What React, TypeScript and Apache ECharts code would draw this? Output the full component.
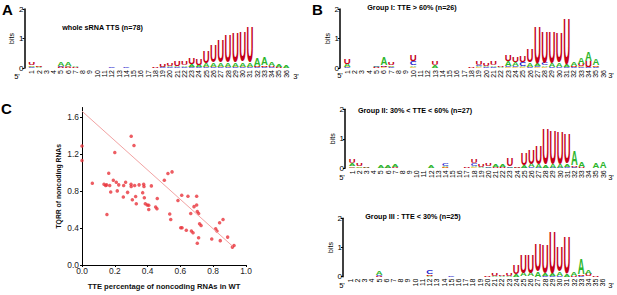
import React, { useEffect, useRef } from "react";
import * as echarts from "echarts";

// ---------- data ----------
const positions = [1,2,3,4,5,6,7,8,9,10,11,12,13,14,15,16,17,18,19,20,21,22,23,24,25,26,27,28,29,30,31,32,33,34,35,36];
const letters = ["U", "A", "C", "G"];
const letterColors = ["#c4001a", "#2cb52c", "#1a1acc", "#f2a900"];
const letterWidths = [0.722, 0.722, 0.722, 0.778];

// whole sRNA TTS (n=78)
const wholeU = [0.07,0.04,0.01,0,0.02,0.02,0.03,0,0,0, 0,0.01,0,0.01,0,0,0.01,0.02,0.07,0.10, 0.17,0.15,0.24,0.20,0.38,0.58,0.76,0.95,1.03,1.05, 1.20,0.03,0.06,0.04,0.02,0.01];
const wholeA = [0.04,0.02,0.01,0.01,0.14,0.12,0.04,0,0,0, 0,0.01,0,0.01,0,0,0.01,0.01,0.03,0.05, 0.06,0.06,0.08,0.07,0.11,0.14,0.15,0.15,0.15,0.15, 0.13,0.26,0.28,0.15,0.09,0.07];
const wholeC = [0.02,0,0,0,0.03,0.02,0.01,0,0,0.01, 0,0.03,0,0.02,0.01,0,0,0,0.02,0.02, 0.02,0.02,0.02,0.02,0.02,0.02,0.02,0.02,0.02,0.02, 0.02,0.02,0.02,0.02,0.01,0.01];
const wholeG = [0.03,0.02,0,0,0.02,0.02,0.01,0,0,0, 0,0,0,0,0,0,0,0,0.01,0.01, 0.01,0.01,0.02,0.01,0.02,0.02,0.02,0.02,0.02,0.02, 0.02,0.02,0.02,0.01,0.01,0.01];

// Group I: TTE > 60% (n=26)
const g1U = [0.17,0,0,0,0.02,0.05,0.09,0,0,0.22, 0,0,0.12,0,0,0,0,0.03,0.12,0.10, 0.13,0.03,0.20,0.18,0.22,0.45,1.24,1.06,1.07,1.05, 1.58,0.03,0.09,0.20,0.03,0.01];
const g1A = [0.11,0,0,0,0.03,0.25,0.05,0,0,0.06, 0,0,0.09,0,0,0,0,0.01,0.04,0.05, 0.06,0.02,0.18,0.14,0.05,0.14,0.10,0.06,0.12,0.14, 0.07,0.12,0.22,0.30,0.22,0.01];
const g1C = [0.02,0,0,0,0.02,0.03,0.02,0,0,0.12, 0,0,0.01,0,0,0,0,0.01,0.05,0.02, 0.02,0.01,0.03,0.03,0.12,0.02,0.03,0.08,0.02,0.02, 0.02,0.02,0.02,0.02,0.02,0.01];
const g1G = [0.02,0,0,0,0.01,0.02,0.02,0,0,0.03, 0,0,0.01,0,0,0,0,0,0.02,0, 0.01,0,0.02,0.02,0.02,0.02,0.02,0.02,0.01,0.01, 0.01,0.02,0.03,0.02,0.03,0.01];

// Group II: 30% < TTE < 60% (n=27)
const g2U = [0.12,0.07,0.02,0.01,0.01,0.02,0.06,0,0,0, 0,0.01,0,0.02,0,0,0.02,0.13,0.09,0.08, 0.04,0.02,0.28,0.03,0.38,0.50,0.64,1.22,1.15,1.10, 1.05,0.06,0.03,0,0.01,0.01];
const g2A = [0.09,0.05,0.02,0,0.09,0.08,0.07,0,0,0, 0,0.08,0,0.03,0,0,0,0.06,0.05,0.05, 0.09,0.09,0.05,0.02,0.07,0.15,0.13,0.10,0.12,0.13, 0.08,0.50,0.17,0,0.18,0.20];
const g2C = [0.02,0.01,0,0,0.01,0.01,0.01,0,0,0, 0,0.01,0,0.09,0,0,0,0.07,0.01,0.02, 0.01,0.01,0.02,0,0.02,0.02,0.02,0.02,0.02,0.02, 0.06,0.03,0.01,0,0.01,0.01];
const g2G = [0.05,0.02,0,0,0,0,0.01,0,0,0, 0,0,0,0.02,0,0,0,0.03,0,0, 0,0,0.01,0,0.01,0.01,0.01,0.01,0.01,0.01, 0.01,0.02,0.01,0,0,0];

// Group III : TTE < 30% (n=25)
const g3U = [0,0,0,0,0.02,0,0,0,0,0, 0,0.03,0.01,0.01,0,0,0,0,0,0.04, 0.09,0.03,0.09,0.30,0.64,0.64,0.94,1.01,1.44,0.88, 1.28,0.03,0.05,0.08,0.02,0];
const g3A = [0,0,0,0,0.13,0,0,0,0,0, 0,0.02,0,0,0,0,0,0,0,0.01, 0.02,0.02,0.03,0.10,0.14,0.14,0.18,0.10,0.08,0.14, 0.10,0.15,0.55,0.12,0,0];
const g3C = [0,0,0,0,0.03,0,0,0,0,0, 0,0.14,0,0,0.02,0,0,0,0,0, 0,0,0,0.01,0.01,0.01,0.01,0.02,0.02,0.02, 0.01,0.01,0.02,0.01,0,0];
const g3G = [0,0,0,0,0,0,0,0,0,0, 0,0.02,0,0,0,0,0,0,0,0, 0,0,0,0.01,0.01,0.01,0.01,0.01,0.01,0.01, 0.01,0.01,0.02,0.01,0,0];

// scatter: TTE percentage vs TQRR
const tteX = [0.00,0.00,0.063,0.30,0.317,0.20,0.163,0.134,0.144,0.150,0.169,0.175,0.191,0.209,0.215,0.224,0.254,0.266,0.252,0.278,0.299,0.30,0.307,0.321,0.327,0.331,0.348,0.37,0.376,0.378,0.38,0.386,0.398,0.407,0.407,0.423,0.449,0.457,0.459,0.502,0.524,0.549,0.535,0.541,0.585,0.602,0.608,0.61,0.636,0.646,0.663,0.667,0.677,0.683,0.699,0.699,0.703,0.711,0.703,0.711,0.717,0.726,0.791,0.815,0.823,0.839,0.843,0.86,0.888,0.917,0.927,0.152];
const tqrrY = [1.285,1.127,0.882,1.39,1.29,1.215,0.99,0.872,0.858,0.865,0.858,0.788,0.914,0.893,0.80,0.865,0.858,0.893,0.735,0.784,0.872,0.847,0.704,0.858,0.739,0.662,0.865,0.781,0.872,0.847,0.725,0.662,0.648,0.644,0.599,0.854,0.627,0.606,0.718,0.914,0.987,1.005,0.55,0.49,0.697,0.403,0.753,0.403,0.375,0.742,0.557,0.368,0.347,0.63,0.648,0.742,0.578,0.557,0.235,0.294,0.445,0.427,0.28,0.392,0.368,0.455,0.263,0.49,0.301,0.193,0.21,0.546];
const fitX = [0, 0.92];
const fitY = [1.66, 0.2];

const yTicksC = [0, 0.4, 0.8, 1.2, 1.6];
const xTicksC = [0, 0.2, 0.4, 0.6, 0.8, 1.0];

// ---------- helpers ----------
function buildStacks(cols: number[][]) {
  const out: number[][] = [];
  positions.forEach((p, i) => {
    const items = cols
      .map((arr, li) => ({ h: arr[i], li }))
      .filter((d) => d.h >= 0.015)
      .sort((a, b) => a.h - b.h);
    let base = 0;
    items.forEach((d) => {
      out.push([p, base, base + d.h, d.li]);
      base += d.h;
    });
  });
  return out;
}

const FS = 40;
function renderLetter(params: any, api: any) {
  const pos = api.value(0);
  const y0 = api.value(1);
  const y1 = api.value(2);
  const li = api.value(3);
  const p0 = api.coord([pos, y0]);
  const p1 = api.coord([pos, y1]);
  const colW = api.size([1, 0])[0];
  const h = p0[1] - p1[1];
  const sx = (colW * 0.95) / (FS * letterWidths[li]);
  const sy = h / (FS * 0.716);
  return {
    type: "text",
    x: p0[0],
    y: (p0[1] + p1[1]) / 2,
    scaleX: sx,
    scaleY: sy,
    silent: true,
    style: {
      legacy: false,
      text: letters[li],
      fill: letterColors[li],
      fontSize: FS,
      fontWeight: "bold",
      fontFamily: '"Liberation Sans", Arial, sans-serif',
      align: "center",
      verticalAlign: "middle",
    },
  };
}

const logoPanels = [
  { left: 24.5, top: 9, spacing: 7.27, height: 59, cols: [wholeU, wholeA, wholeC, wholeG] },
  { left: 340, top: 9, spacing: 7.31, height: 59, cols: [g1U, g1A, g1C, g1G] },
  { left: 345, top: 109.3, spacing: 7.17, height: 59, cols: [g2U, g2A, g2C, g2G] },
  { left: 343, top: 218.3, spacing: 7.22, height: 58.4, cols: [g3U, g3A, g3C, g3G] },
];

export default function App() {
  const ref = useRef<HTMLDivElement>(null);
  useEffect(() => {
    if (!ref.current) return;
    const chart = echarts.init(ref.current, null, { renderer: "svg" });
    const grids: any[] = [];
    const xAxes: any[] = [];
    const yAxes: any[] = [];
    const series: any[] = [];
    logoPanels.forEach((p, i) => {
      grids.push({ left: p.left, top: p.top, width: p.spacing * 37, height: p.height });
      xAxes.push({
        gridIndex: i,
        type: "value",
        min: 0,
        max: 37,
        interval: 1,
        axisLine: { show: false },
        axisTick: { show: false },
        splitLine: { show: false },
        axisLabel: {
          customValues: positions,
          rotate: 90,
          fontSize: 7,
          color: "#000",
          margin: 2,
          fontFamily: "Liberation Sans",
        },
      });
      yAxes.push({
        gridIndex: i,
        type: "value",
        min: 0,
        max: 2,
        interval: 1,
        name: "bits",
        nameLocation: "middle",
        nameGap: 7,
        nameRotate: 90,
        nameTextStyle: { fontSize: 7, color: "#000", fontFamily: "Liberation Sans" },
        axisLine: { show: true, lineStyle: { color: "#000", width: 1.5 } },
        axisTick: { show: true, length: 2, lineStyle: { color: "#000" } },
        axisLabel: { fontSize: 8, color: "#000", margin: 1, fontFamily: "Liberation Sans" },
        splitLine: { show: false },
      });
      series.push({
        type: "custom",
        xAxisIndex: i,
        yAxisIndex: i,
        clip: false,
        silent: true,
        renderItem: renderLetter,
        encode: { x: 0, y: [1, 2] },
        data: buildStacks(p.cols),
      });
    });
    // scatter panel
    grids.push({ left: 82, top: 107.5, width: 164, height: 161.5 });
    xAxes.push({
      gridIndex: 4,
      type: "value",
      min: 0,
      max: 1,
      interval: 0.2,
      name: "TTE percentage of noncoding RNAs in WT",
      nameLocation: "middle",
      nameGap: 17,
      nameTextStyle: { fontSize: 7.6, fontWeight: "bold", color: "#111", fontFamily: "Liberation Sans" },
      axisLine: { show: true, lineStyle: { color: "#000", width: 1 } },
      axisTick: { show: true, length: 2, customValues: xTicksC, lineStyle: { color: "#000" } },
      axisLabel: {
        customValues: xTicksC,
        formatter: (v: number) => v.toFixed(1),
        fontSize: 8.4,
        color: "#222",
        margin: 2,
        fontFamily: "Liberation Sans",
      },
      splitLine: { show: false },
    });
    yAxes.push({
      gridIndex: 4,
      type: "value",
      min: 0,
      max: 1.7,
      name: "TQRR of noncoding RNAs",
      nameLocation: "middle",
      nameGap: 20,
      nameRotate: 90,
      nameTextStyle: { fontSize: 6.8, fontWeight: "bold", color: "#111", fontFamily: "Liberation Sans" },
      axisLine: { show: true, lineStyle: { color: "#000", width: 1 } },
      axisTick: { show: true, length: 2, customValues: yTicksC, lineStyle: { color: "#000" } },
      axisLabel: {
        customValues: yTicksC,
        formatter: (v: number) => v.toFixed(1),
        fontSize: 8.4,
        color: "#222",
        margin: 3,
        fontFamily: "Liberation Sans",
      },
      splitLine: { show: false },
    });
    series.push({
      type: "line",
      xAxisIndex: 4,
      yAxisIndex: 4,
      data: fitX.map((x, i) => [x, fitY[i]]),
      symbol: "none",
      lineStyle: { color: "#f2a3a3", width: 1 },
      silent: true,
    });
    series.push({
      type: "scatter",
      xAxisIndex: 4,
      yAxisIndex: 4,
      data: tteX.map((x, i) => [x, tqrrY[i]]),
      symbolSize: 3.5,
      itemStyle: { color: "#e8343c" },
      clip: false,
      silent: true,
    });

    const t = (text: string, x: number, y: number, size: number, bold = true, align = "left") => ({
      type: "text",
      x,
      y,
      silent: true,
      style: {
        text,
        fill: "#000",
        font: `${bold ? "bold " : ""}${size}px "Liberation Sans", Arial, sans-serif`,
        textAlign: align,
        textVerticalAlign: "middle",
      },
    });
    const graphic = [
      t("A", 2, 9, 15),
      t("B", 312, 9, 15),
      t("C", 1, 108, 15),
      t("whole sRNA TTS (n=78)", 102.5, 27, 7.2, true, "center"),
      t("Group I: TTE > 60% (n=26)", 412, 7, 7.2, true, "center"),
      t("Group II: 30% < TTE < 60% (n=27)", 415, 110, 7.2, true, "center"),
      t("Group III : TTE < 30% (n=25)", 413, 216, 7.2, true, "center"),
      t("5'", 17, 76, 7.5, false, "center"),
      t("3'", 296, 76, 7.5, false, "center"),
      t("5'", 340, 75, 7.5, false, "center"),
      t("3'", 611, 75, 7.5, false, "center"),
      t("5'", 342, 177, 7.5, false, "center"),
      t("3'", 611, 177, 7.5, false, "center"),
      t("5'", 342, 285, 7.5, false, "center"),
      t("3'", 611, 285, 7.5, false, "center"),
    ];

    chart.setOption({
      animation: false,
      backgroundColor: "#fff",
      grid: grids,
      xAxis: xAxes,
      yAxis: yAxes,
      series,
      graphic,
    });
    return () => chart.dispose();
  }, []);
  return (
    <div
      ref={ref}
      style={{ position: "absolute", left: 0, top: 0, width: 617, height: 295, background: "#fff" }}
    />
  );
}
